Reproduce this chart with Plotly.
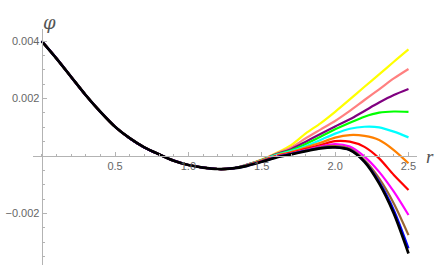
import plotly.graph_objects as go

# r grid (0 .. 2.5 step 0.1)
r_values = [0.0, 0.1, 0.2, 0.3, 0.4, 0.5, 0.6, 0.7, 0.8, 0.9, 1.0, 1.1, 1.2, 1.3,
            1.4, 1.5, 1.6, 1.7, 1.8, 1.9, 2.0, 2.1, 2.2, 2.3, 2.4, 2.5]

# shared part of every curve for r = 0 .. 1.3
shared_head = [0.0040, 0.00340, 0.00276, 0.00212, 0.00154, 0.00102, 0.00062,
               0.00030, 0.00006, -0.00016, -0.00031, -0.00040, -0.00045, -0.00043]

# per-series values for r = 1.4 .. 2.5
tail_yellow  = [-0.00030, -0.00012, 0.00011, 0.00038, 0.00079, 0.00114, 0.00154, 0.00197, 0.00241, 0.00284, 0.00328, 0.00371]
tail_pink    = [-0.00030, -0.00013, 0.00009, 0.00030, 0.00062, 0.00092, 0.00122, 0.00157, 0.00195, 0.00232, 0.00270, 0.00303]
tail_purple  = [-0.00030, -0.00014, 0.00007, 0.00024, 0.00050, 0.00077, 0.00103, 0.00128, 0.00157, 0.00186, 0.00212, 0.00233]
tail_green   = [-0.00031, -0.00015, 0.00005, 0.00020, 0.00042, 0.00067, 0.00093, 0.00116, 0.00137, 0.00151, 0.00155, 0.00154]
tail_cyan    = [-0.00031, -0.00015, 0.00004, 0.00017, 0.00034, 0.00056, 0.00078, 0.00095, 0.00102, 0.00100, 0.00085, 0.00065]
tail_orange  = [-0.00032, -0.00016, 0.00002, 0.00014, 0.00030, 0.00046, 0.00064, 0.00073, 0.00070, 0.00056, 0.00021, -0.00025]
tail_red     = [-0.00032, -0.00017, 0.00000, 0.00011, 0.00025, 0.00038, 0.00052, 0.00050, 0.00032, -0.00008, -0.00066, -0.00118]
tail_magenta = [-0.00033, -0.00018, -0.00002, 0.00009, 0.00021, 0.00033, 0.00042, 0.00033, -0.00002, -0.00055, -0.00124, -0.00205]
tail_brown   = [-0.00033, -0.00019, -0.00003, 0.00008, 0.00019, 0.00030, 0.00035, 0.00026, -0.00014, -0.00078, -0.00165, -0.00275]
tail_blue    = [-0.00034, -0.00020, -0.00004, 0.00007, 0.00018, 0.00028, 0.00031, 0.00022, -0.00019, -0.00090, -0.00188, -0.00321]
tail_black   = [-0.00034, -0.00020, -0.00005, 0.00006, 0.00017, 0.00027, 0.00030, 0.00021, -0.00020, -0.00095, -0.00200, -0.00339]

series = [
    ("yellow", tail_yellow, "#FFFF00", 2.2),
    ("pink", tail_pink, "#FF8080", 2.2),
    ("purple", tail_purple, "#800080", 2.2),
    ("green", tail_green, "#00FF00", 2.2),
    ("cyan", tail_cyan, "#00FFFF", 2.2),
    ("orange", tail_orange, "#FF8000", 2.2),
    ("red", tail_red, "#FF0000", 2.2),
    ("magenta", tail_magenta, "#FF00FF", 2.2),
    ("brown", tail_brown, "#996633", 2.2),
    ("blue", tail_blue, "#0000FF", 2.2),
    ("black", tail_black, "#000000", 2.7),
]

x_tickvals = [0.5, 1.0, 1.5, 2.0, 2.5]
x_ticktext = ["0.5", "1.0", "1.5", "2.0", "2.5"]
y_tickvals = [-0.002, 0.002, 0.004]
y_ticktext = ["\u22120.002", "0.002", "0.004"]

fig = go.Figure()
for name, tail, color, width in series:
    fig.add_trace(go.Scatter(
        x=r_values, y=shared_head + tail, mode="lines", name=name,
        line=dict(color=color, width=width, shape="spline", smoothing=0.8),
        hoverinfo="skip", showlegend=False,
    ))

x_min, x_max = -0.059, 2.558
y_min, y_max = -0.00379, 0.00442
axis_col = "#b3b3b3"
font_col = "#666666"

fig.update_layout(
    width=436, height=268,
    margin=dict(l=33, r=19, t=29, b=3, autoexpand=False),
    paper_bgcolor="white", plot_bgcolor="white",
    font=dict(family="Liberation Sans, Arial, sans-serif", size=11, color=font_col),
    xaxis=dict(
        range=[x_min, x_max], anchor="free", automargin=False,
        position=(0 - y_min) / (y_max - y_min),
        showgrid=False, zeroline=False, showline=True, linecolor=axis_col, linewidth=1,
        tickmode="array", tickvals=x_tickvals, ticktext=x_ticktext,
        ticks="inside", ticklen=4, tickcolor=axis_col, tickwidth=1,
        minor=dict(tickmode="linear", tick0=0, dtick=0.1, ticks="inside",
                   ticklen=2.5, tickcolor=axis_col, tickwidth=1),
        tickfont=dict(size=11, color=font_col),
    ),
    yaxis=dict(
        range=[y_min, y_max], anchor="free", automargin=False,
        position=(0 - x_min) / (x_max - x_min),
        showgrid=False, zeroline=False, showline=True, linecolor=axis_col, linewidth=1,
        tickmode="array", tickvals=y_tickvals, ticktext=y_ticktext,
        ticks="inside", ticklen=4, tickcolor=axis_col, tickwidth=1,
        minor=dict(tickmode="linear", tick0=0, dtick=0.0005, ticks="inside",
                   ticklen=2.5, tickcolor=axis_col, tickwidth=1),
        tickfont=dict(size=11, color=font_col),
    ),
    annotations=[
        dict(text="<i>φ</i>", xref="paper", yref="paper", x=0.022, y=1.08,
             showarrow=False, font=dict(size=18, color="#555555",
                                        family="DejaVu Serif, serif")),
        dict(text="<i>r</i>", xref="paper", yref="paper", x=1.05, y=0.458,
             showarrow=False, font=dict(size=19, color="#555555",
                                        family="Liberation Serif, serif")),
    ],
)

fig.write_html("out.html",
               config={"displayModeBar": False, "staticPlot": True},
               post_script="document.body.style.margin='0';document.body.style.overflow='hidden';")
